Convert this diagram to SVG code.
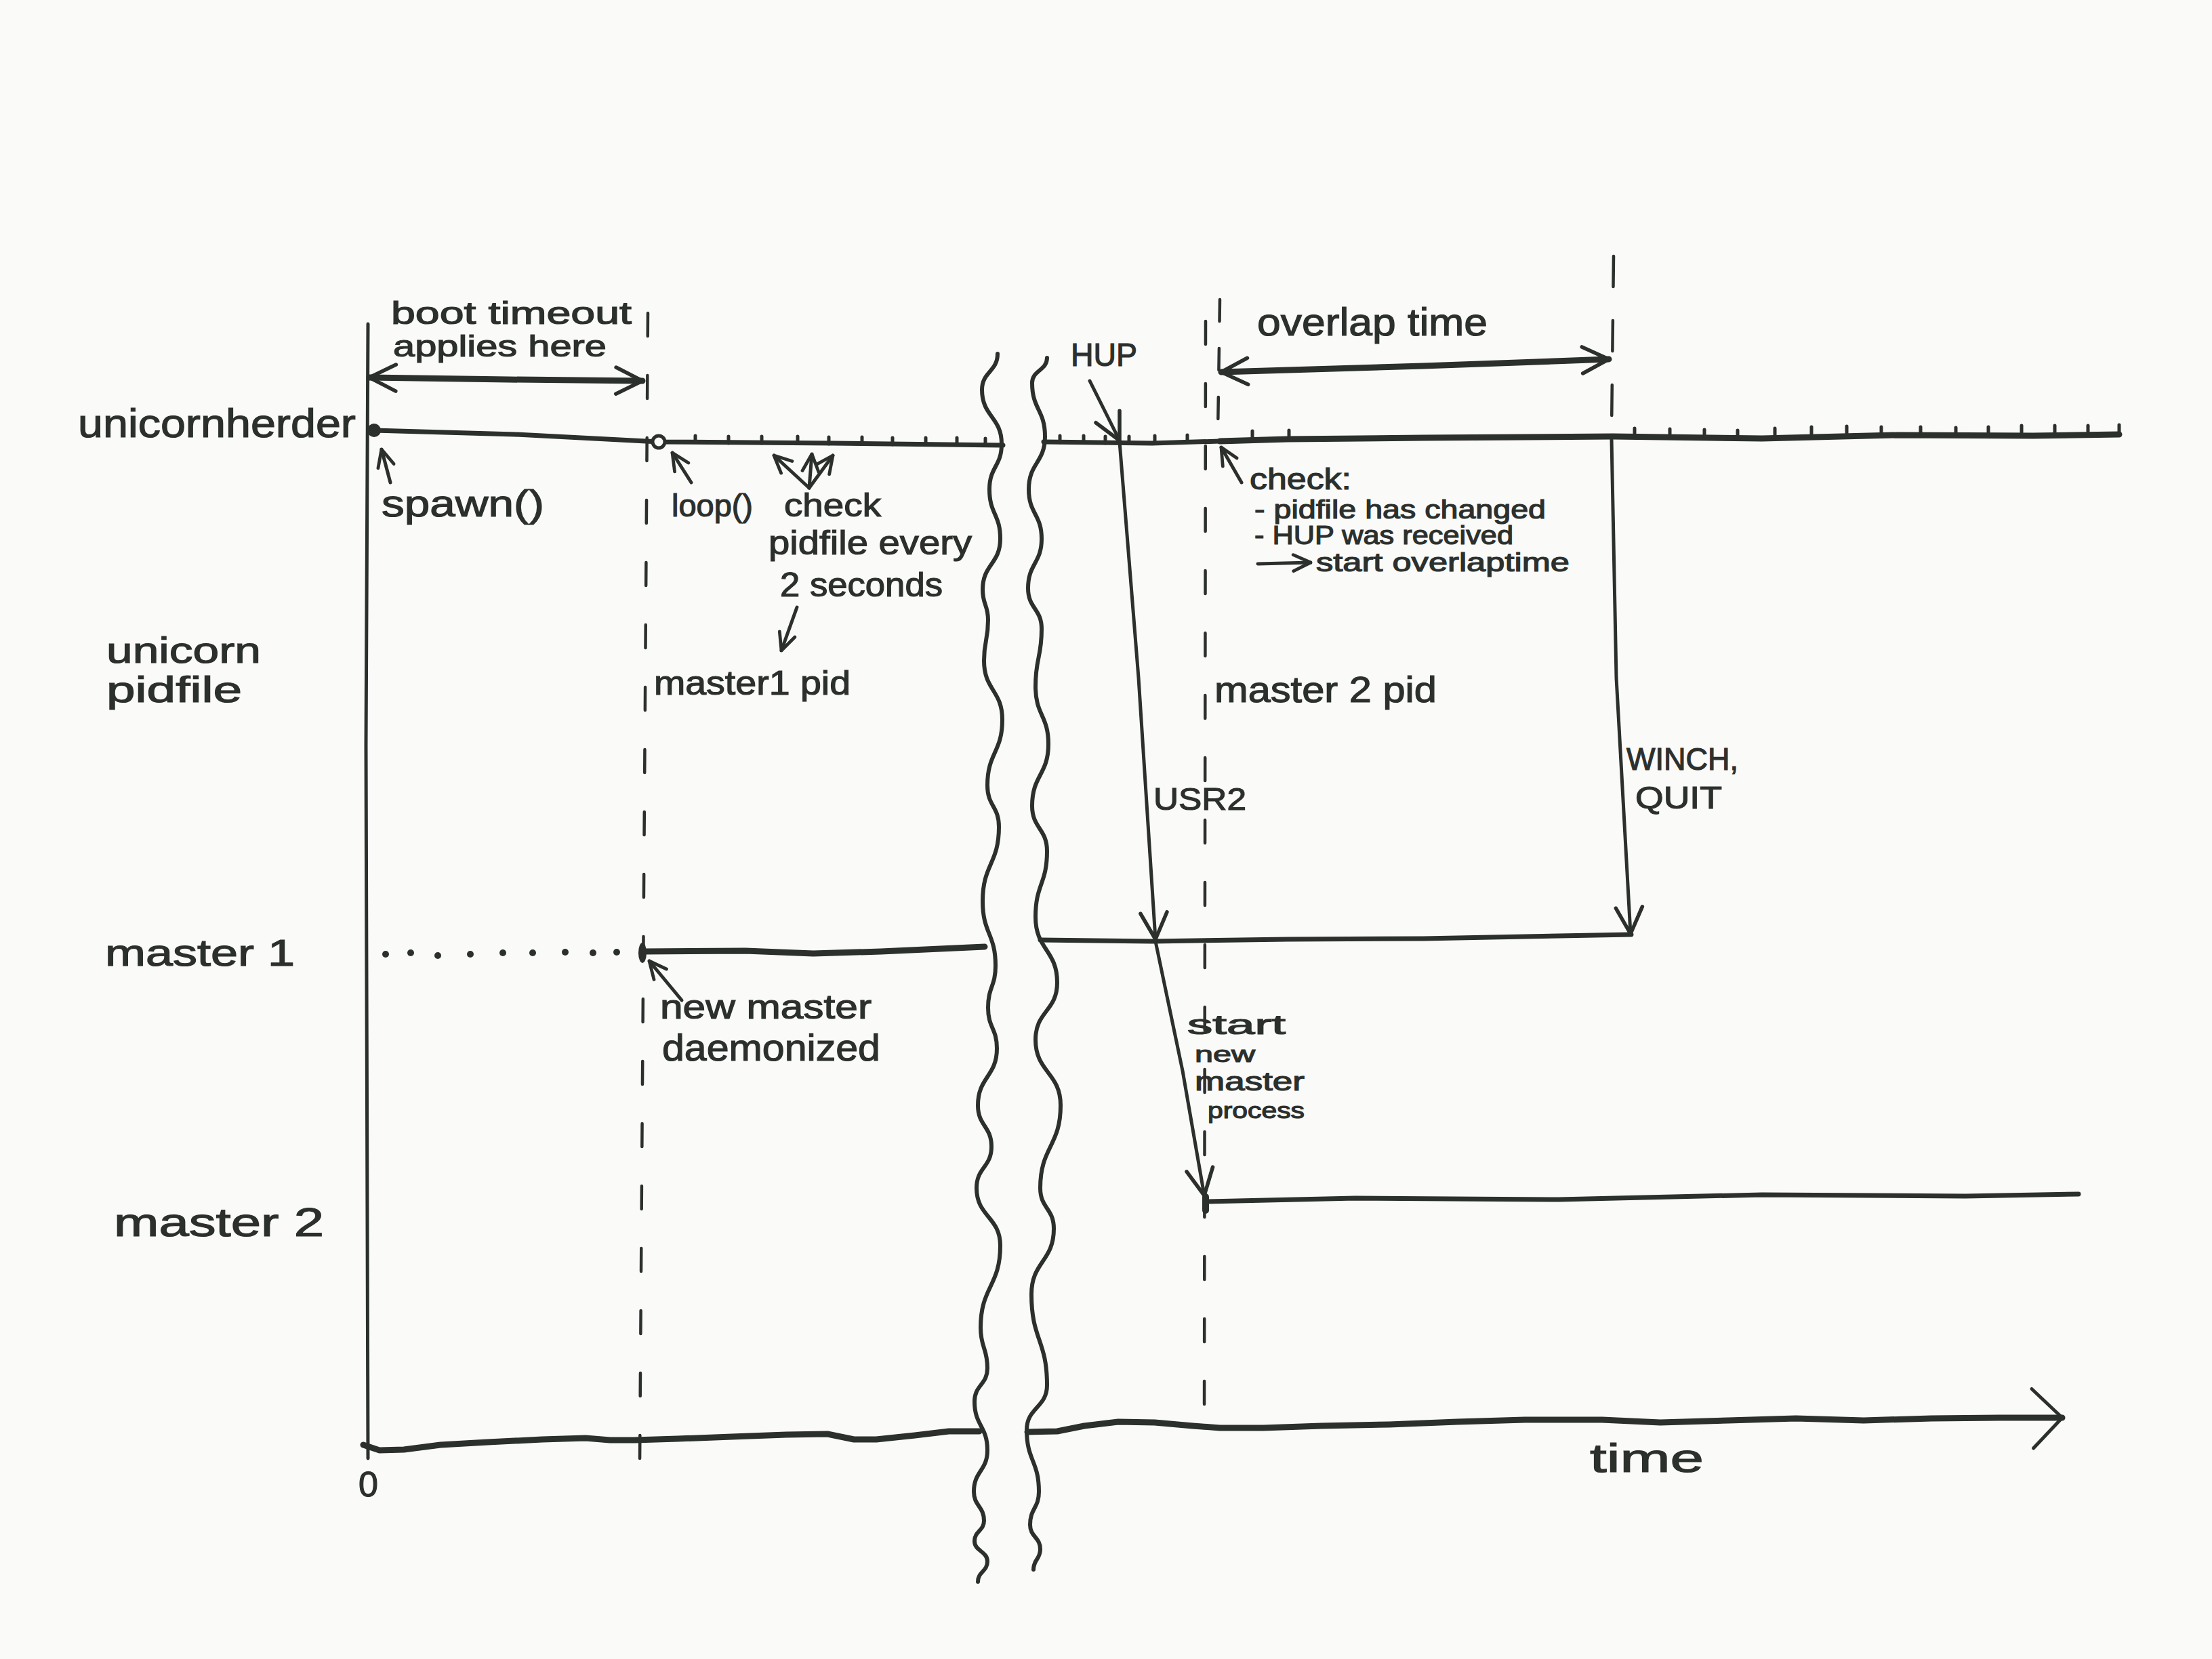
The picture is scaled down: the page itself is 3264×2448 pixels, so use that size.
<svg xmlns="http://www.w3.org/2000/svg" width="3264" height="2448" viewBox="0 0 3264 2448">
<defs>
<style>
.ink{stroke:#2c302d;fill:none;stroke-linecap:round;stroke-linejoin:round}
.thick{stroke-width:9}
.mid{stroke-width:7}
.thin{stroke-width:5}
.wave{stroke-width:6}
.dash{stroke-width:4.5;stroke-dasharray:34 58}
.tick{stroke-width:5}
.t{font-family:"Liberation Sans","DejaVu Sans",sans-serif;fill:#2c302d;stroke:#2c302d;stroke-width:1.2}
</style>
<marker id="ah" viewBox="0 0 20 20" refX="19" refY="10" markerWidth="46" markerHeight="46" markerUnits="userSpaceOnUse" orient="auto-start-reverse">
<path d="M2,1.5 L19,10 L2,18.5" fill="none" stroke="#2c302d" stroke-width="2.4" stroke-linecap="round" stroke-linejoin="round"/>
</marker>
<marker id="ahs" viewBox="0 0 20 20" refX="19" refY="10" markerWidth="30" markerHeight="30" markerUnits="userSpaceOnUse" orient="auto">
<path d="M2,2 L19,10 L2,18" fill="none" stroke="#2c302d" stroke-width="3.2" stroke-linecap="round" stroke-linejoin="round"/>
</marker>
<marker id="ahb" viewBox="0 0 20 20" refX="19" refY="10" markerWidth="100" markerHeight="100" markerUnits="userSpaceOnUse" orient="auto">
<path d="M10,1.5 L19,10 L10.5,19" fill="none" stroke="#2c302d" stroke-width="1" stroke-linecap="round" stroke-linejoin="round"/>
</marker>
</defs>
<rect x="0" y="0" width="3264" height="2448" fill="#fafaf9"/>

<g id="lane-labels">
<g id="label-unicornherder"><text class="t" x="115" y="645" font-size="60" textLength="410" lengthAdjust="spacingAndGlyphs">unicornherder</text></g>
<g id="label-pidfile"><text class="t" x="157" y="978" font-size="54" textLength="228" lengthAdjust="spacingAndGlyphs">unicorn</text><text class="t" x="157" y="1036" font-size="54" textLength="200" lengthAdjust="spacingAndGlyphs">pidfile</text></g>
<g id="label-master1"><text class="t" x="155" y="1425" font-size="56" textLength="280" lengthAdjust="spacingAndGlyphs">master 1</text></g>
<g id="label-master2"><text class="t" x="168" y="1824" font-size="60" textLength="310" lengthAdjust="spacingAndGlyphs">master 2</text></g>
</g>

<g id="axes">
<path class="ink thin" d="M543,478 L540,1100 L543,2152"/>
<path class="ink thick" d="M536,2132 L560,2140 L596,2139 L650,2132 L720,2128 L800,2124 L864,2122 L900,2125 L936,2125 L1000,2123 L1080,2120 L1160,2117 L1221,2116 L1260,2124 L1293,2124 L1350,2118 L1400,2112 L1445,2112"/>
<path class="ink thick" d="M1516,2113 L1560,2112 L1600,2104 L1650,2098 L1704,2099 L1760,2104 L1800,2107 L1864,2107 L1950,2104 L2050,2102 L2150,2098 L2250,2095 L2364,2095 L2450,2099 L2550,2096 L2650,2093 L2750,2096 L2850,2093 L2950,2092 L3043,2092" marker-end="url(#ahb)"/>
<text class="t" x="529" y="2208" font-size="52">0</text>
<text class="t" x="2346" y="2172" font-size="60" textLength="168" lengthAdjust="spacingAndGlyphs">time</text>
</g>

<g id="breaks">
<path class="ink wave" d="M1472,522 C1472,548.5 1449,548.5 1449,575 C1449,615 1478,615 1478,655 C1478,688.5 1460,688.5 1460,722 C1460,758.5 1476,758.5 1476,795 C1476,832.5 1450,832.5 1450,870 C1450,892.5 1458,892.5 1458,915 C1458,945 1452,945 1452,975 C1452,1018.5 1479,1018.5 1479,1062 C1479,1110.5 1457,1110.5 1457,1159 C1457,1189.5 1474,1189.5 1474,1220 C1474,1275 1450,1275 1450,1330 C1450,1377.5 1469,1377.5 1469,1425 C1469,1456 1458,1456 1458,1487 C1458,1517 1471,1517 1471,1547 C1471,1589 1443,1589 1443,1631 C1443,1661.5 1463,1661.5 1463,1692 C1463,1722.5 1441,1722.5 1441,1753 C1441,1795.5 1476,1795.5 1476,1838 C1476,1898.5 1447,1898.5 1447,1959 C1447,1989 1457,1989 1457,2019 C1457,2043.5 1438,2043.5 1438,2068 C1438,2104 1457,2104 1457,2140 C1457,2170.5 1437,2170.5 1437,2201 C1437,2222.5 1452,2222.5 1452,2244 C1452,2259 1438,2259 1438,2274 C1438,2289 1457,2289 1457,2304 C1457,2319 1443,2319 1443,2334"/>
<path class="ink wave" d="M1545,528 C1545,546.5 1523,546.5 1523,565 C1523,604.5 1542,604.5 1542,644 C1542,683 1518,683 1518,722 C1518,758.5 1537,758.5 1537,795 C1537,831.5 1517,831.5 1517,868 C1517,898 1537,898 1537,928 C1537,970.5 1528,970.5 1528,1013 C1528,1055.5 1547,1055.5 1547,1098 C1547,1143.5 1523,1143.5 1523,1189 C1523,1222.5 1545,1222.5 1545,1256 C1545,1304.5 1528,1304.5 1528,1353 C1528,1401.5 1560,1401.5 1560,1450 C1560,1492 1528,1492 1528,1534 C1528,1582.5 1565,1582.5 1565,1631 C1565,1692 1535,1692 1535,1753 C1535,1783 1555,1783 1555,1813 C1555,1861.5 1522,1861.5 1522,1910 C1522,1977 1545,1977 1545,2044 C1545,2077 1515,2077 1515,2110 C1515,2155.5 1533,2155.5 1533,2201 C1533,2225.5 1520,2225.5 1520,2250 C1520,2268 1535,2268 1535,2286 C1535,2301 1525,2301 1525,2316"/>
</g>

<g id="guides">
<path class="ink dash" d="M956,462 L944,2162"/>
<path class="ink dash" d="M1779,474 L1777,2103"/>
<path class="ink dash" d="M1800,442 L1797,640" style="stroke-dasharray:32 40"/>
<path class="ink dash" d="M2381,378 L2378,636" style="stroke-dasharray:45 50"/>
</g>

<g id="unicornherder-lifeline">
<path class="ink mid" d="M552,635 L760,641 L972,652 L1230,654 L1480,657"/>
<path class="ink mid" d="M1540,652 L1700,654 L1800,651"/>
<path class="ink thick" d="M1800,651 L1900,648 L2100,646 L2380,644 L2600,647 L2800,642 L3000,643 L3127,641"/>
<path class="ink tick" d="M1026,643v9 M1075,644v10 M1124,644v10 M1177,644v10 M1223,645v10 M1272,645v10 M1317,646v10 M1366,646v10 M1412,646v10 M1454,647v10 M1564,643v10 M1599,643v10 M1631,644v10 M1666,644v10 M1704,643v10 M1752,642v10 M1848,636v10 M1902,635v10 M2412,632v10 M2464,633v10 M2515,634v10 M2564,635v10 M2619,632v10 M2673,630v10 M2725,629v10 M2776,630v10 M2834,630v10 M2886,631v10 M2934,630v10 M2983,628v10 M3032,628v10 M3081,628v10 M3127,627v10"/>
<circle cx="552" cy="635" r="10" fill="#2c302d"/>
<circle cx="972" cy="652" r="9" fill="#fafaf9" stroke="#2c302d" stroke-width="5"/>
</g>

<g id="master1-lifeline">
<g fill="#2c302d">
<circle cx="569" cy="1408" r="5"/><circle cx="606" cy="1406" r="5"/><circle cx="646" cy="1410" r="5"/><circle cx="694" cy="1408" r="5"/><circle cx="742" cy="1406" r="5"/><circle cx="786" cy="1406" r="5"/><circle cx="834" cy="1405" r="5"/><circle cx="875" cy="1406" r="5"/><circle cx="910" cy="1405" r="5"/>
<ellipse cx="948" cy="1406" rx="6" ry="15"/>
</g>
<path class="ink thick" d="M950,1404 L1100,1403 L1200,1407 L1300,1404 L1453,1397"/>
<path class="ink mid" d="M1535,1387 L1700,1389 L1900,1386 L2100,1385 L2300,1381 L2407,1379"/>
</g>

<g id="master2-lifeline">
<path class="ink" d="M1779,1766 L1779,1786" stroke-width="10"/>
<path class="ink mid" d="M1782,1773 L2000,1768 L2300,1770 L2600,1763 L2900,1765 L3067,1762"/>
</g>

<g id="connectors">
<path class="ink thick" d="M545,557 L750,560 L948,562" marker-start="url(#ah)" marker-end="url(#ah)"/>
<path class="ink thick" d="M1802,549 L2100,540 L2374,530" marker-start="url(#ah)" marker-end="url(#ah)"/>
<path class="ink thin" d="M1608,562 L1652,650" marker-end="url(#ah)"/>
<path class="ink thin" d="M1652,652 L1680,1000 L1705,1386" marker-end="url(#ah)"/>
<path class="ink thin" d="M1705,1389 L1745,1580 L1777,1764" marker-end="url(#ah)"/>
<path class="ink thin" d="M2378,648 L2385,1000 L2406,1378" marker-end="url(#ah)"/>
<path class="ink thin" d="M576,712 L563,663" marker-end="url(#ahs)"/>
<path class="ink thin" d="M1020,712 L992,668" marker-end="url(#ahs)"/>
<path class="ink thin" d="M1194,720 L1142,672" marker-end="url(#ahs)"/>
<path class="ink thin" d="M1194,720 L1198,670" marker-end="url(#ahs)"/>
<path class="ink thin" d="M1194,720 L1229,672" marker-end="url(#ahs)"/>
<path class="ink thin" d="M1176,896 L1153,960" marker-end="url(#ahs)" stroke-width="7"/>
<path class="ink thin" d="M1006,1476 L958,1418" marker-end="url(#ahs)"/>
<path class="ink thin" d="M1832,712 L1802,660" marker-end="url(#ahs)"/>
<path class="ink thin" d="M1856,832 L1934,830" marker-end="url(#ahs)" stroke-width="6"/>
</g>

<g id="annotations">
<text class="t" x="577" y="478" font-size="46" textLength="355" lengthAdjust="spacingAndGlyphs">boot timeout</text>
<text class="t" x="580" y="526" font-size="44" textLength="315" lengthAdjust="spacingAndGlyphs">applies here</text>
<text class="t" x="563" y="762" font-size="56" textLength="240" lengthAdjust="spacingAndGlyphs">spawn()</text>
<text class="t" x="991" y="762" font-size="46" textLength="120" lengthAdjust="spacingAndGlyphs">loop()</text>
<text class="t" x="1157" y="762" font-size="48" textLength="143" lengthAdjust="spacingAndGlyphs">check</text>
<text class="t" x="1134" y="818" font-size="50" textLength="300" lengthAdjust="spacingAndGlyphs">pidfile every</text>
<text class="t" x="1151" y="880" font-size="50" textLength="240" lengthAdjust="spacingAndGlyphs">2 seconds</text>
<text class="t" x="965" y="1025" font-size="50" textLength="290" lengthAdjust="spacingAndGlyphs">master1 pid</text>
<text class="t" x="974" y="1503" font-size="50" textLength="312" lengthAdjust="spacingAndGlyphs">new master</text>
<text class="t" x="977" y="1565" font-size="56" textLength="322" lengthAdjust="spacingAndGlyphs">daemonized</text>
<text class="t" x="1580" y="540" font-size="48" textLength="98" lengthAdjust="spacingAndGlyphs">HUP</text>
<text class="t" x="1855" y="495" font-size="58" textLength="340" lengthAdjust="spacingAndGlyphs">overlap time</text>
<text class="t" x="1844" y="722" font-size="44" textLength="150" lengthAdjust="spacingAndGlyphs">check:</text>
<text class="t" x="1851" y="765" font-size="38" textLength="430" lengthAdjust="spacingAndGlyphs">- pidfile has changed</text>
<text class="t" x="1851" y="803" font-size="38" textLength="382" lengthAdjust="spacingAndGlyphs">- HUP was received</text>
<text class="t" x="1942" y="843" font-size="38" textLength="374" lengthAdjust="spacingAndGlyphs">start overlaptime</text>
<text class="t" x="1792" y="1036" font-size="54" textLength="328" lengthAdjust="spacingAndGlyphs">master 2 pid</text>
<text class="t" x="1702" y="1195" font-size="46" textLength="137" lengthAdjust="spacingAndGlyphs">USR2</text>
<text class="t" x="2400" y="1136" font-size="46" textLength="165" lengthAdjust="spacingAndGlyphs">WINCH,</text>
<text class="t" x="2413" y="1193" font-size="46" textLength="128" lengthAdjust="spacingAndGlyphs">QUIT</text>
<text class="t" x="1752" y="1526" font-size="40" textLength="145" lengthAdjust="spacingAndGlyphs">start</text>
<text class="t" x="1763" y="1567" font-size="34" textLength="89" lengthAdjust="spacingAndGlyphs">new</text>
<text class="t" x="1763" y="1609" font-size="38" textLength="162" lengthAdjust="spacingAndGlyphs">master</text>
<text class="t" x="1782" y="1650" font-size="34" textLength="143" lengthAdjust="spacingAndGlyphs">process</text>
</g>
</svg>
